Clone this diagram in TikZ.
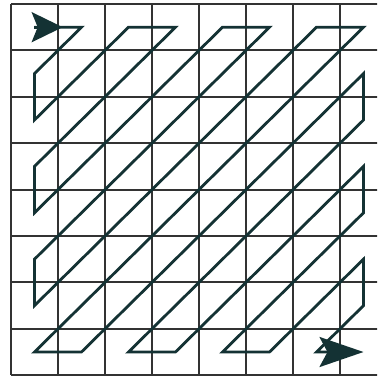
\documentclass[tikz,border=0pt]{standalone}
\usetikzlibrary{arrows.meta}
\definecolor{scanteal}{RGB}{20,50,52}

\begin{document}
\begin{tikzpicture}[
  x=1.175cm,
  y=-1.16cm,
  gridline/.style={
    draw=black!80,
    line width=0.5mm
  },
  scan/.style={
    draw=scanteal,
    line width=0.7mm,
    line join=miter
  }
]
  \useasboundingbox (-0.234,-0.086) rectangle (7.787,8.125);
  \clip (-0.234,-0.086) rectangle (7.787,8.125);

  \foreach \r in {0,...,8}
    \draw[gridline] (0,\r) -- (8,\r);
  \foreach \c in {0,...,8}
    \draw[gridline] (\c,0) -- (\c,8);

  % cell centres
  \foreach \i in {0,...,7}
    \foreach \j in {0,...,7}
      \coordinate (c\i\j) at (\i+0.5,\j+0.5);
  \coordinate (starttip) at (1.1,0.5);

  \draw[scan,-{Stealth[length=11mm,width=7.5mm,inset=2mm]}]
    (c00) -- (c10) -- (c01) -- (c02) -- (c20) -- (c30) -- (c03) -- (c04)
    -- (c40) -- (c50) -- (c05) -- (c06) -- (c60) -- (c70) -- (c07) -- (c17)
    -- (c71) -- (c72) -- (c27) -- (c37) -- (c73) -- (c74) -- (c47) -- (c57)
    -- (c75) -- (c76) -- (c67) -- (c77);
  \draw[scan,-{Stealth[length=7.75mm,width=7.5mm,inset=1.5mm]}]
    (c00) -- (starttip);
\end{tikzpicture}
\end{document}
